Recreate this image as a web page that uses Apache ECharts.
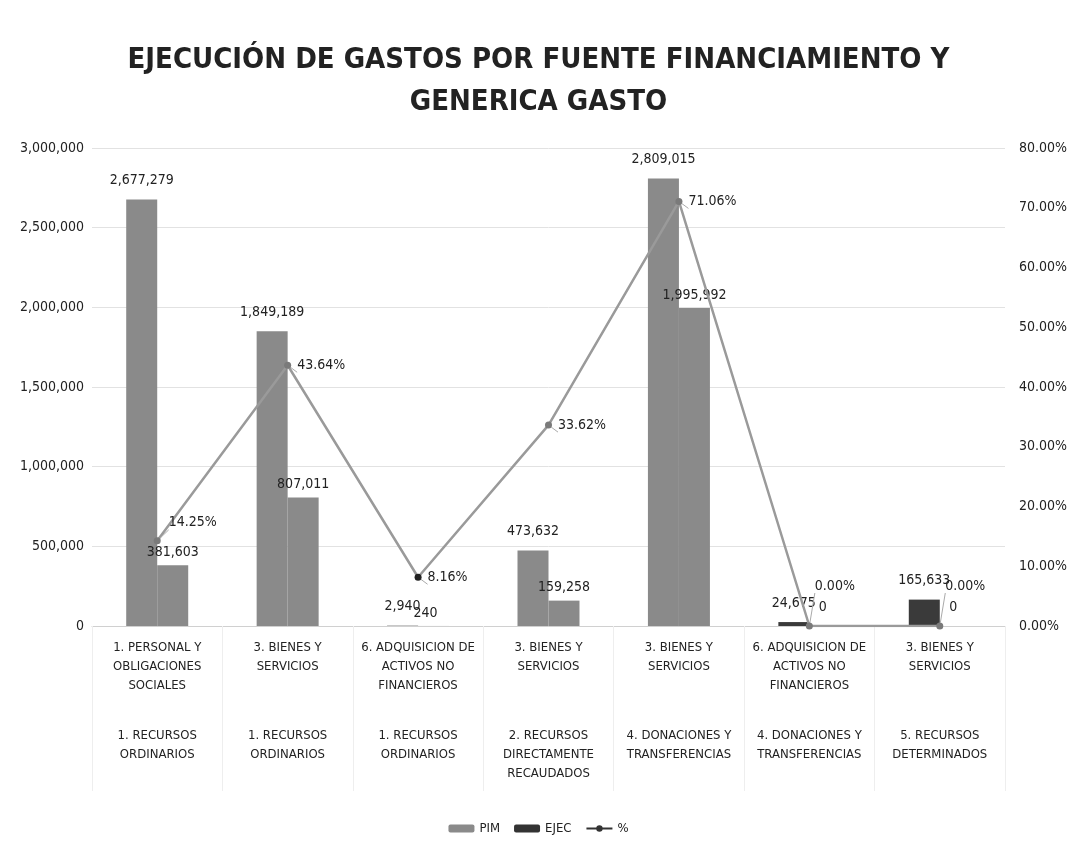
<!DOCTYPE html>
<html>
<head>
<meta charset="utf-8">
<script src="https://cdn.jsdelivr.net/npm/echarts@6/dist/echarts.min.js"></script>
<style>
  html,body{margin:0;padding:0;background:#fff;}
  #chart{width:1077px;height:856px;}
</style>
</head>
<body>
<div id="chart"></div>
<script>
// generica de gasto (primer nivel) y fuente de financiamiento (segundo nivel)
var genericas = ['1. PERSONAL Y\nOBLIGACIONES\nSOCIALES', '3. BIENES Y\nSERVICIOS', '6. ADQUISICION DE\nACTIVOS NO\nFINANCIEROS',
  '3. BIENES Y\nSERVICIOS', '3. BIENES Y\nSERVICIOS', '6. ADQUISICION DE\nACTIVOS NO\nFINANCIEROS', '3. BIENES Y\nSERVICIOS'];
var fuentes = ['1. RECURSOS\nORDINARIOS', '1. RECURSOS\nORDINARIOS', '1. RECURSOS\nORDINARIOS', '2. RECURSOS\nDIRECTAMENTE\nRECAUDADOS',
  '4. DONACIONES Y\nTRANSFERENCIAS', '4. DONACIONES Y\nTRANSFERENCIAS', '5. RECURSOS\nDETERMINADOS'];
var pim = [2677279, 1849189, 2940, 473632, 2809015, 24675, 165633];
var ejec = [381603, 807011, 240, 159258, 1995992, 0, 0];
var pct = [14.25, 43.64, 8.16, 33.62, 71.06, 0.00, 0.00];

var font = '"DejaVu Sans Condensed", "Liberation Sans Narrow", sans-serif';
var fmt = function (v) { return Math.round(v).toLocaleString('en-US'); };

var chart = echarts.init(document.getElementById('chart'));
var option = {
  backgroundColor: '#fff',
  textStyle: { fontFamily: font, color: '#222' },
  title: {
    text: 'EJECUCIÓN DE GASTOS POR FUENTE FINANCIAMIENTO Y\nGENERICA GASTO',
    left: 'center', top: 34,
    textStyle: { fontFamily: font, fontSize: 29, fontWeight: 'bold', color: '#222', lineHeight: 42 }
  },
  legend: {
    bottom: 16, left: 'center', itemGap: 14, itemWidth: 26, itemHeight: 8,
    textStyle: { fontFamily: font, fontSize: 13, color: '#222' },
    data: [
      { name: 'PIM', itemStyle: { color: '#8a8a8a' } },
      { name: 'EJEC', itemStyle: { color: '#333' } },
      { name: '%', itemStyle: { color: '#333' }, lineStyle: { color: '#333' } }
    ]
  },
  grid: { left: 92, right: 72, top: 148, bottom: 230 },
  xAxis: [
    {
      type: 'category', data: genericas,
      axisLine: { lineStyle: { color: '#d0d0d0' } },
      axisTick: { show: true, length: 165, lineStyle: { color: '#eeeeee' } },
      axisLabel: { interval: 0, margin: 12, fontSize: 13, lineHeight: 19, color: '#222', fontFamily: font }
    },
    {
      type: 'category', data: fuentes, position: 'bottom', offset: 92,
      axisLine: { show: false }, axisTick: { show: false },
      axisLabel: { interval: 0, margin: 8, fontSize: 13, lineHeight: 19, color: '#222', fontFamily: font }
    }
  ],
  yAxis: [
    {
      type: 'value', min: 0, max: 3000000, interval: 500000,
      axisLine: { show: false }, axisTick: { show: false },
      splitLine: { lineStyle: { color: '#e2e2e2', width: 1 } },
      axisLabel: { fontSize: 14, color: '#222', margin: 8, formatter: function (v) { return fmt(v); } }
    },
    {
      type: 'value', min: 0, max: 80, interval: 10,
      axisLine: { show: false }, axisTick: { show: false }, splitLine: { show: false },
      axisLabel: { fontSize: 14, color: '#222', margin: 14, formatter: function (v) { return v.toFixed(2) + '%'; } }
    }
  ],
  series: [
    {
      name: 'PIM', type: 'bar', barWidth: 31, barGap: '0%',
      itemStyle: { color: '#8a8a8a' },
      label: { show: true, position: 'top', distance: 12, fontSize: 14, color: '#222', formatter: function (p) { return fmt(p.value); } },
      data: pim.map(function (v, i) {
        return i >= 5 ? { value: v, itemStyle: { color: '#3a3a3a' } } : v;
      })
    },
    {
      name: 'EJEC', type: 'bar', barWidth: 31,
      itemStyle: { color: '#8a8a8a' },
      label: { show: true, position: 'top', distance: 6, fontSize: 14, color: '#222', formatter: function (p) { return fmt(p.value); } },
      data: ejec.map(function (v, i) {
        if (i >= 5) return { value: v, label: { offset: [-2, -6] } };
        if (i === 2) return { value: v, label: { offset: [-8, 0] } };
        return v;
      })
    },
    {
      name: '%', type: 'line', yAxisIndex: 1, symbol: 'circle', symbolSize: 7,
      lineStyle: { color: '#9a9a9a', width: 2.5 },
      itemStyle: { color: '#7a7a7a' },
      label: { show: true, position: 'right', distance: 6, fontSize: 14, color: '#222', formatter: function (p) { return p.value.toFixed(2) + '%'; } },
      labelLine: { show: true, lineStyle: { color: '#aaa' } },
      data: pct.map(function (v, i) {
        if (i === 0) return { value: v, label: { offset: [2, -18] } };
        if (i === 2) return { value: v, itemStyle: { color: '#222' } };
        if (i >= 5) return { value: v, label: { offset: [-4, -40] } };
        return v;
      })
    }
  ]
};
chart.setOption(option);
</script>
</body>
</html>
